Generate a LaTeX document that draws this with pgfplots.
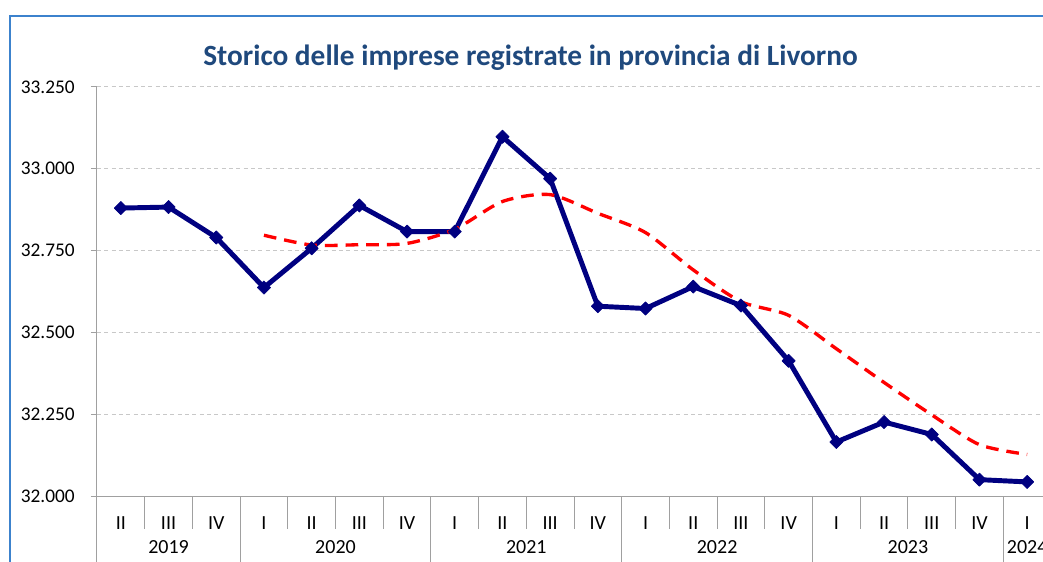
\documentclass[border=0pt]{standalone}
\usepackage{pgfplots}
\pgfplotsset{compat=1.18}
\usepackage{fontspec}
\setmainfont{Carlito}
\definecolor{navyline}{RGB}{0,0,128}
\definecolor{titleblue}{RGB}{31,73,125}
\definecolor{frameblue}{RGB}{60,130,205}
\definecolor{axgray}{RGB}{160,160,160}
\definecolor{gridgray}{RGB}{200,200,200}
\begin{document}
\begin{tikzpicture}[x=1pt,y=1pt]
\useasboundingbox (0,0) rectangle (782.25,420.75);
\clip (0,0) rectangle (782.25,420.75);
\draw[frameblue, line width=1.1pt] (7.5,-5) -- (7.5,408.75) -- (800,408.75);
\node[font=\bfseries\fontsize{22}{26}\selectfont, text=titleblue] at (397.9,377.5) {Storico delle imprese registrate in provincia di Livorno};
\begin{axis}[
  at={(72.75pt,48.75pt)}, anchor=south west,
  width=715.5pt, height=306.75pt, scale only axis,
  xmin=0.5, xmax=20.5, ymin=32000, ymax=33250,
  clip=false,
  axis x line*=bottom, axis y line*=left,
  axis line style={axgray, line width=0.75pt},
  ytick={32000,32250,32500,32750,33000,33250},
  scaled y ticks=false,
  ymajorgrids,
  grid style={gridgray, line width=0.75pt, dash pattern=on 3pt off 2.5pt},
  tick align=outside,
  major tick length=4.5pt,
  ytick style={axgray, line width=0.75pt},
  xtick={1,...,20},
  xticklabels={II,III,IV,I,II,III,IV,I,II,III,IV,I,II,III,IV,I,II,III,IV,I},
  xtick style={draw=none},
  xticklabel style={anchor=base, inner sep=0pt, yshift=-20.25pt, font=\fontsize{15}{18}\selectfont},
  yticklabel style={anchor=east, inner sep=0pt, xshift=-12pt, font=\fontsize{14.5}{17}\selectfont,
    /pgf/number format/fixed, /pgf/number format/precision=0,
    /pgf/number format/1000 sep={.}, /pgf/number format/assume math mode=true},
]
\addplot[navyline, line width=3.7pt, line join=round, mark=square*, mark size=3.5pt,
  mark options={rotate=45, solid, line width=0.5pt}] coordinates {
(1,32880) (2,32883) (3,32790) (4,32637) (5,32757) (6,32888) (7,32808)
(8,32808) (9,33098) (10,32970) (11,32580) (12,32573) (13,32640) (14,32582)
(15,32413) (16,32165) (17,32226) (18,32188) (19,32050) (20,32043)};
\addplot[red, line width=2.5pt, dash pattern=on 9.5pt off 6pt, smooth, tension=0.45] coordinates {
(4,32797) (5,32767) (6,32768) (7,32772) (8,32815) (9,32900) (10,32921)
(11,32864) (12,32805) (13,32691) (14,32594) (15,32552) (16,32450)
(17,32347) (18,32248) (19,32157) (20,32127)};
% category separators
\pgfplotsinvokeforeach{1.5,2.5,4.5,5.5,6.5,8.5,9.5,10.5,12.5,13.5,14.5,16.5,17.5,18.5}{
  \draw[axgray, line width=0.75pt] (axis cs:#1,32000) -- ([yshift=-24.75pt]axis cs:#1,32000);
}
\pgfplotsinvokeforeach{0.5,3.5,7.5,11.5,15.5,19.5}{
  \draw[axgray, line width=0.75pt] (axis cs:#1,32000) -- ([yshift=-60pt]axis cs:#1,32000);
}
\node[anchor=base, inner sep=0pt, font=\fontsize{15}{18}\selectfont] at ([yshift=-42.75pt]axis cs:2,32000) {2019};
\node[anchor=base, inner sep=0pt, font=\fontsize{15}{18}\selectfont] at ([yshift=-42.75pt]axis cs:5.5,32000) {2020};
\node[anchor=base, inner sep=0pt, font=\fontsize{15}{18}\selectfont] at ([yshift=-42.75pt]axis cs:9.5,32000) {2021};
\node[anchor=base, inner sep=0pt, font=\fontsize{15}{18}\selectfont] at ([yshift=-42.75pt]axis cs:13.5,32000) {2022};
\node[anchor=base, inner sep=0pt, font=\fontsize{15}{18}\selectfont] at ([yshift=-42.75pt]axis cs:17.5,32000) {2023};
\node[anchor=base, inner sep=0pt, font=\fontsize{15}{18}\selectfont] at ([yshift=-42.75pt]axis cs:20,32000) {2024};
\end{axis}
\end{tikzpicture}
\end{document}
